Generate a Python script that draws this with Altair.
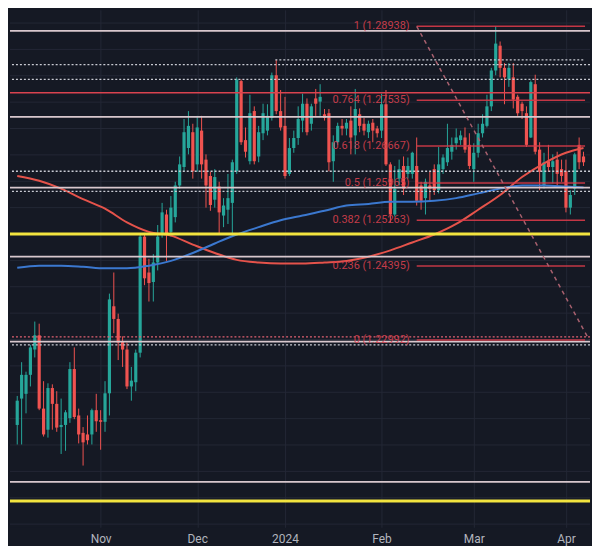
import altair as alt
import pandas as pd

# ---------------- data (daily bars, index 0 = 5 Oct 2023 ... 129 = 5 Apr 2024) ----------------
opens = [1.2138, 1.2188, 1.2197, 1.2233, 1.2281, 1.2308, 1.2169, 1.2129, 1.2208, 1.2178,
         1.2134, 1.2138, 1.2151, 1.2244, 1.2156, 1.2123, 1.2120, 1.2120, 1.2166, 1.2147,
         1.2144, 1.2198, 1.2363, 1.2339, 1.2297, 1.2281, 1.2211, 1.2219, 1.2275, 1.2495,
         1.2427, 1.2409, 1.2446, 1.2499, 1.2537, 1.2504, 1.2532, 1.2592, 1.2627, 1.2663,
         1.2693, 1.2632, 1.2696, 1.2641, 1.2610, 1.2565, 1.2590, 1.2535, 1.2546, 1.2559,
         1.2619, 1.2790, 1.2678, 1.2638, 1.2733, 1.2647, 1.2691, 1.2696, 1.2720, 1.2801,
         1.2733, 1.2705, 1.2614, 1.2663, 1.2682, 1.2715, 1.2747, 1.2709, 1.2757, 1.2751,
         1.2727, 1.2729, 1.2638, 1.2674, 1.2705, 1.2700, 1.2715, 1.2687, 1.2727, 1.2709,
         1.2693, 1.2711, 1.2700, 1.2696, 1.2746, 1.2632, 1.2537, 1.2605, 1.2629, 1.2614,
         1.2614, 1.2629, 1.2592, 1.2568, 1.2592, 1.2623, 1.2583, 1.2623, 1.2636, 1.2656,
         1.2672, 1.2678, 1.2683, 1.2669, 1.2623, 1.2654, 1.2691, 1.2705, 1.2742, 1.2810,
         1.2857, 1.2815, 1.2793, 1.2797, 1.2760, 1.2747, 1.2729, 1.2683, 1.2784, 1.2660,
         1.2592, 1.2638, 1.2627, 1.2641, 1.2623, 1.2619, 1.2550, 1.2586, 1.2669, 1.2647]
highs = [1.2193, 1.2257, 1.2239, 1.2290, 1.2334, 1.2330, 1.2221, 1.2217, 1.2215, 1.2202,
         1.2188, 1.2166, 1.2257, 1.2285, 1.2169, 1.2134, 1.2156, 1.2169, 1.2197, 1.2166,
         1.2221, 1.2387, 1.2427, 1.2349, 1.2306, 1.2294, 1.2248, 1.2281, 1.2502, 1.2502,
         1.2453, 1.2462, 1.2517, 1.2559, 1.2546, 1.2572, 1.2599, 1.2647, 1.2718, 1.2733,
         1.2709, 1.2724, 1.2724, 1.2651, 1.2618, 1.2623, 1.2599, 1.2568, 1.2614, 1.2641,
         1.2797, 1.2793, 1.2702, 1.2764, 1.2742, 1.2705, 1.2747, 1.2746, 1.2806, 1.2830,
         1.2773, 1.2760, 1.2682, 1.2696, 1.2742, 1.2766, 1.2757, 1.2747, 1.2775, 1.2784,
         1.2737, 1.2737, 1.2687, 1.2711, 1.2718, 1.2718, 1.2742, 1.2775, 1.2738, 1.2720,
         1.2715, 1.2718, 1.2705, 1.2766, 1.2773, 1.2636, 1.2629, 1.2641, 1.2647, 1.2645,
         1.2656, 1.2683, 1.2599, 1.2605, 1.2618, 1.2632, 1.2665, 1.2651, 1.2709, 1.2683,
         1.2700, 1.2696, 1.2702, 1.2691, 1.2672, 1.2709, 1.2727, 1.2764, 1.2815, 1.2894,
         1.2865, 1.2824, 1.2824, 1.2824, 1.2764, 1.2751, 1.2742, 1.2791, 1.2802, 1.2674,
         1.2654, 1.2669, 1.2651, 1.2656, 1.2641, 1.2641, 1.2583, 1.2654, 1.2683, 1.2656]
lows = [1.2101, 1.2101, 1.2160, 1.2211, 1.2266, 1.2166, 1.2116, 1.2114, 1.2129, 1.2125,
        1.2083, 1.2089, 1.2142, 1.2149, 1.2103, 1.2061, 1.2101, 1.2101, 1.2125, 1.2091,
        1.2125, 1.2156, 1.2312, 1.2261, 1.2248, 1.2206, 1.2184, 1.2202, 1.2266, 1.2403,
        1.2372, 1.2372, 1.2431, 1.2493, 1.2449, 1.2495, 1.2522, 1.2586, 1.2618, 1.2651,
        1.2605, 1.2618, 1.2605, 1.2550, 1.2544, 1.2550, 1.2500, 1.2513, 1.2519, 1.2500,
        1.2614, 1.2669, 1.2645, 1.2632, 1.2632, 1.2636, 1.2678, 1.2687, 1.2715, 1.2727,
        1.2696, 1.2605, 1.2610, 1.2654, 1.2669, 1.2693, 1.2687, 1.2696, 1.2724, 1.2724,
        1.2715, 1.2619, 1.2599, 1.2669, 1.2687, 1.2687, 1.2651, 1.2651, 1.2693, 1.2687,
        1.2682, 1.2674, 1.2683, 1.2682, 1.2629, 1.2522, 1.2533, 1.2592, 1.2574, 1.2605,
        1.2605, 1.2554, 1.2546, 1.2537, 1.2563, 1.2574, 1.2577, 1.2614, 1.2629, 1.2641,
        1.2660, 1.2669, 1.2654, 1.2623, 1.2599, 1.2645, 1.2683, 1.2702, 1.2733, 1.2801,
        1.2797, 1.2746, 1.2779, 1.2738, 1.2724, 1.2718, 1.2665, 1.2682, 1.2651, 1.2583,
        1.2586, 1.2618, 1.2596, 1.2592, 1.2599, 1.2541, 1.2537, 1.2574, 1.2623, 1.2629]
closes = [1.2184, 1.2233, 1.2233, 1.2285, 1.2308, 1.2169, 1.2120, 1.2208, 1.2178, 1.2133,
          1.2138, 1.2162, 1.2244, 1.2153, 1.2120, 1.2105, 1.2109, 1.2166, 1.2145, 1.2144,
          1.2198, 1.2376, 1.2339, 1.2294, 1.2281, 1.2211, 1.2222, 1.2275, 1.2495, 1.2416,
          1.2407, 1.2446, 1.2495, 1.2541, 1.2500, 1.2550, 1.2592, 1.2632, 1.2693, 1.2705,
          1.2619, 1.2702, 1.2632, 1.2592, 1.2555, 1.2608, 1.2541, 1.2554, 1.2568, 1.2636,
          1.2793, 1.2674, 1.2656, 1.2729, 1.2638, 1.2693, 1.2729, 1.2724, 1.2801, 1.2733,
          1.2702, 1.2610, 1.2663, 1.2682, 1.2718, 1.2747, 1.2693, 1.2742, 1.2747, 1.2760,
          1.2720, 1.2636, 1.2674, 1.2705, 1.2700, 1.2711, 1.2683, 1.2737, 1.2705, 1.2696,
          1.2709, 1.2696, 1.2691, 1.2746, 1.2632, 1.2537, 1.2586, 1.2623, 1.2586, 1.2629,
          1.2654, 1.2563, 1.2563, 1.2599, 1.2586, 1.2583, 1.2632, 1.2645, 1.2663, 1.2669,
          1.2683, 1.2687, 1.2660, 1.2629, 1.2654, 1.2691, 1.2709, 1.2742, 1.2810, 1.2861,
          1.2815, 1.2797, 1.2815, 1.2755, 1.2729, 1.2733, 1.2669, 1.2788, 1.2656, 1.2618,
          1.2636, 1.2627, 1.2638, 1.2614, 1.2610, 1.2550, 1.2574, 1.2651, 1.2636, 1.2636]

month_idx = [19, 41, 61, 83, 104, 125]
month_labels = ["Nov", "Dec", "2024", "Feb", "Mar", "Apr"]

ma_idx = [0, 5, 10, 15, 20, 25, 30, 35, 40, 45, 50, 55, 60, 65, 70, 75, 80, 85, 90, 95,
          100, 105, 110, 115, 120, 125, 129]
ma_red = [1.2610, 1.2601, 1.2586, 1.2566, 1.2548, 1.2522, 1.2504, 1.2497, 1.2480, 1.2464,
          1.2451, 1.2446, 1.2444, 1.2444, 1.2446, 1.2449, 1.2457, 1.2469, 1.2484, 1.2499,
          1.2519, 1.2546, 1.2574, 1.2608, 1.2634, 1.2654, 1.2663]
ma_blue = [1.2436, 1.2440, 1.2440, 1.2438, 1.2435, 1.2435, 1.2440, 1.2449, 1.2464, 1.2482,
           1.2499, 1.2513, 1.2526, 1.2535, 1.2544, 1.2554, 1.2557, 1.2561, 1.2561, 1.2563,
           1.2568, 1.2577, 1.2586, 1.2592, 1.2592, 1.2590, 1.2588]

fib_ratios = ["1", "0.764", "0.618", "0.5", "0.382", "0.236", "0"]
fib_prices = [1.28938, 1.27535, 1.26667, 1.25965, 1.25263, 1.24395, 1.22992]
fib_anchor_idx = [91, 130.3]
fib_anchor_price = [1.28938, 1.22992]

white_solid = [1.2885, 1.2722, 1.2588, 1.2457, 1.2296, 1.2030]
white_dotted = [1.2821, 1.2793, 1.2619, 1.2581, 1.2290]
white_dotted_from_top = [1.2830]
red_solid = [1.2768]
red_dotted = [1.2305]
yellow_levels = [1.2500, 1.1994]
grid_levels = [1.195, 1.200, 1.205, 1.210, 1.215, 1.220, 1.225, 1.230, 1.235, 1.240,
               1.245, 1.250, 1.255, 1.260, 1.265, 1.270, 1.275, 1.280, 1.285, 1.290]

# ---------------- layout / style ----------------
X_MIN, X_MAX = -0.52, 129.35
Y_MIN, Y_MAX = 1.1944, 1.2925
FIB_START = 91
FIB_LABEL_X = 89.4
TOP_DOT_START = 58.8
BG = "#151924"
GRID = "#232735"
UP, DOWN = "#26a69a", "#ef5350"
FONT = "Roboto"

xs = alt.Scale(domain=[X_MIN, X_MAX], nice=False, zero=False)
ys = alt.Scale(domain=[Y_MIN, Y_MAX], nice=False, zero=False)

label_expr = " : ".join(f"datum.value == {i} ? '{t}'" for i, t in zip(month_idx, month_labels)) + " : ''"
x_axis = alt.Axis(values=month_idx, labelExpr=label_expr, grid=True, gridColor=GRID,
                  domain=False, ticks=False, labelColor="#b2b5be", labelFontSize=12,
                  labelFont=FONT, labelPadding=6, title=None)

candles = pd.DataFrame({"i": list(range(len(opens))), "open": opens, "high": highs,
                        "low": lows, "close": closes})
candles["dir"] = ["up" if c >= o else "down" for o, c in zip(opens, closes)]
color = alt.Color("dir:N", scale=alt.Scale(domain=["up", "down"], range=[UP, DOWN]), legend=None)

X = lambda f="i": alt.X(f"{f}:Q", scale=xs, axis=x_axis)
Y = lambda f: alt.Y(f"{f}:Q", scale=ys, axis=None)

grid = alt.Chart(pd.DataFrame({"p": grid_levels})).mark_rule(color=GRID, strokeWidth=1).encode(y=Y("p"))

wicks = alt.Chart(candles).mark_rule(strokeWidth=1).encode(x=X(), y=Y("low"), y2="high", color=color)
bodies = alt.Chart(candles).mark_bar(size=3.2).encode(x=X(), y=Y("open"), y2="close", color=color)

ma_df = pd.DataFrame({"i": ma_idx, "red": ma_red, "blue": ma_blue})
ma_r = alt.Chart(ma_df).mark_line(color="#e5534b", strokeWidth=2, interpolate="monotone").encode(x=X(), y=Y("red"))
ma_b = alt.Chart(ma_df).mark_line(color="#3b78cf", strokeWidth=2, interpolate="monotone").encode(x=X(), y=Y("blue"))

def hlines(levels, color, width, dash=None, opacity=1.0):
    kw = dict(color=color, strokeWidth=width, opacity=opacity)
    if dash:
        kw["strokeDash"] = dash
    return alt.Chart(pd.DataFrame({"p": levels})).mark_rule(**kw).encode(y=Y("p"))

l_white = hlines(white_solid, "#d8c7cd", 1.8)
l_wdot = hlines(white_dotted, "#c9cbd3", 1.3, [2, 2])
l_rsolid = hlines(red_solid, "#d9434f", 1.5)
l_rdot = hlines(red_dotted, "#e06172", 1.3, [2, 2])
l_yellow = hlines(yellow_levels, "#f2e43f", 3)

top_df = pd.DataFrame({"p": white_dotted_from_top})
top_df["x0"] = TOP_DOT_START
top_df["x1"] = X_MAX
l_top = alt.Chart(top_df).mark_rule(color="#c9cbd3", strokeWidth=1.3, strokeDash=[2, 2]).encode(
    x=X("x0"), x2="x1", y=Y("p"))

fib_df = pd.DataFrame({"ratio": fib_ratios, "p": fib_prices})
fib_df["label"] = [f"{r} ({p:.5f})" for r, p in zip(fib_ratios, fib_prices)]
fib_df["x0"] = FIB_START
fib_df["x1"] = X_MAX
fib_df["lx"] = FIB_LABEL_X
fib_lines = alt.Chart(fib_df).mark_rule(color="#d63a49", strokeWidth=1.5, opacity=0.9).encode(
    x=X("x0"), x2="x1", y=Y("p"))
fib_text = alt.Chart(fib_df).mark_text(align="right", baseline="middle", fontSize=11, font=FONT,
                                       color="#d6404e", opacity=0.9).encode(
    x=X("lx"), y=Y("p"), text="label:N")

diag = alt.Chart(pd.DataFrame({"i": fib_anchor_idx, "p": fib_anchor_price})).mark_line(
    color="#a8606e", strokeWidth=1.5, strokeDash=[4, 4], clip=True).encode(x=X(), y=Y("p"))

chart = alt.layer(
    grid, wicks, bodies, ma_r, ma_b,
    l_wdot, l_top, l_rdot, l_rsolid, l_white, l_yellow,
    fib_lines, diag, fib_text,
).properties(
    width=584, height=521, background=BG, padding={"left": 0, "top": 0, "right": 0, "bottom": 0}
).configure_view(strokeWidth=0, fill=BG)

chart.save("out.html", embed_options={"renderer": "svg", "actions": False})
